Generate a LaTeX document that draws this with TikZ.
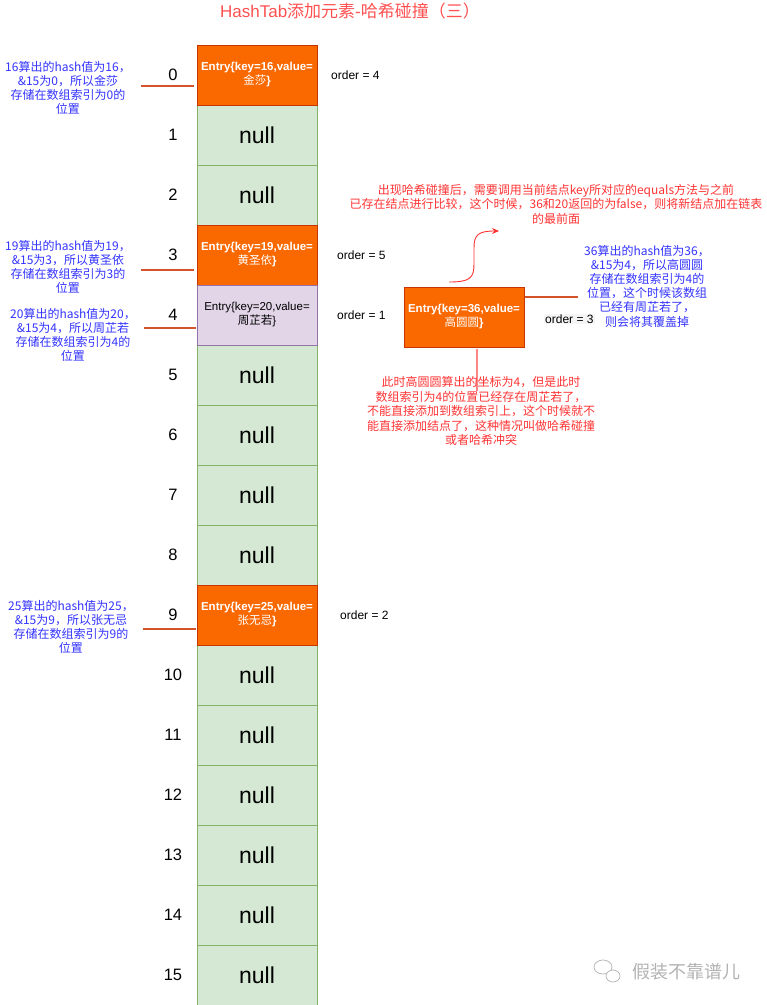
\documentclass[tikz,border=0pt]{standalone}
\usepackage{fontspec}
\setmainfont{Liberation Sans}
\newfontfamily\cjk{Noto Sans CJK SC}
\usetikzlibrary{arrows.meta}
\definecolor{orfill}{HTML}{FA6800}
\definecolor{orline}{HTML}{C73500}
\definecolor{gnfill}{HTML}{D5E8D4}
\definecolor{gnline}{HTML}{82B366}
\definecolor{pufill}{HTML}{E1D5E7}
\definecolor{puline}{HTML}{9673A6}
\definecolor{linkred}{HTML}{D4532B}
\definecolor{notered}{HTML}{FF3333}
\definecolor{noteblue}{HTML}{3333FF}
\definecolor{titlered}{HTML}{FF5050}
\begin{document}
\begin{tikzpicture}[x=1pt,y=-1pt,
  cellbox/.style={minimum width=120pt,minimum height=60pt,inner sep=0pt,line width=0.8pt,align=center},
  nullcell/.style={cellbox,draw=gnline,fill=gnfill,font=\fontsize{23}{23}\selectfont},
  orcell/.style={cellbox,draw=orline,fill=orfill,text=white,font=\bfseries\fontsize{11.5}{14}\selectfont},
  pucell/.style={cellbox,draw=puline,fill=pufill,text=black,font=\fontsize{11.5}{14}\selectfont},
  idx/.style={font=\fontsize{16.5}{17}\selectfont,inner sep=0pt},
  ordertxt/.style={font=\fontsize{12}{12}\selectfont,inner sep=0pt,anchor=west},
  bluenote/.style={font=\cjk\fontsize{12}{14.2}\selectfont,text=noteblue,align=center,inner sep=0pt},
  rednote/.style={font=\cjk\fontsize{12}{14.5}\selectfont,text=notered,align=center,inner sep=0pt},
  linkline/.style={draw=linkred,line width=1.6pt},
]
\useasboundingbox (0,0) rectangle (767,1005);

% title
\node[font=\fontsize{17}{17}\selectfont,text=titlered,inner sep=0pt] (title) at (350,11) {HashTab{\cjk 添加元素}-{\cjk 哈希碰撞（三）}};

% array cells
\foreach \i in {1,2,5,6,7,8,10,11,12,13,14,15}
  \node[nullcell] (c\i) at (257,75+60*\i) {null};
\node[orcell] (c0) at (257,75) {Entry\{key=16,value=\\{\cjk\mdseries 金莎}\}};
\node[orcell] (c3) at (257,255) {Entry\{key=19,value=\\{\cjk\mdseries 黄圣依}\}};
\node[pucell] (c4) at (257,315) {Entry\{key=20,value=\\{\cjk 周芷若}\}};
\node[orcell] (c9) at (257,615) {Entry\{key=25,value=\\{\cjk\mdseries 张无忌}\}};

% indices
\foreach \i in {0,...,15}
  \node[idx] (i\i) at (173,75+60*\i) {\i};

% order labels
\node[ordertxt] (o4) at (331,75) {order = 4};
\node[ordertxt] (o5) at (337,255) {order = 5};
\node[ordertxt] (o1) at (337,315) {order = 1};
\node[ordertxt] (o2) at (340,615) {order = 2};

% left notes
\node[bluenote] (n0) at (68,88) {16算出的hash值为16，\\\&15为0，所以金莎\\存储在数组索引为0的\\位置};
\node[bluenote] (n3) at (68,267) {19算出的hash值为19，\\\&15为3，所以黄圣依\\存储在数组索引为3的\\位置};
\node[bluenote] (n4) at (73,335) {20算出的hash值为20，\\\&15为4，所以周芷若\\存储在数组索引为4的\\位置};
\node[bluenote] (n9) at (71,627) {25算出的hash值为25，\\\&15为9，所以张无忌\\存储在数组索引为9的\\位置};

% link lines
\coordinate (a0) at (141,86);  \coordinate (b0) at (194,86);
\coordinate (a3) at (141,270); \coordinate (b3) at (194,270);
\coordinate (a4) at (144,328); \coordinate (b4) at (196,328);
\coordinate (a9) at (143,629); \coordinate (b9) at (196,629);
\draw[linkline] (a0) -- (b0);
\draw[linkline] (a3) -- (b3);
\draw[linkline] (a4) -- (b4);
\draw[linkline] (a9) -- (b9);

% new entry 36
\node[orcell] (e36) at (464,317) {Entry\{key=36,value=\\{\cjk\mdseries 高圆圆}\}};
\coordinate (e36r) at (525,297);
\coordinate (e36t) at (578,297);
\draw[linkline] (e36r) -- (e36t);
\node[ordertxt,fill=black!4,inner sep=1pt] (o3) at (544,319) {order = 3};

\node[bluenote] (n36) at (647,286) {36算出的hash值为36，\\\&15为4，所以高圆圆\\存储在数组索引为4的\\位置，这个时候该数组\\已经有周芷若了，\\则会将其覆盖掉};

% top red note and curved arrow
\node[rednote] (ntop) at (556,204) {出现哈希碰撞后，需要调用当前结点key所对应的equals方法与之前\\已存在结点进行比较，这个时候，36和20返回的为false，则将新结点加在链表\\的最前面};
\coordinate (cs) at (449,282);
\coordinate (ce) at (499,231);
\draw[notered,line width=0.9pt,-{Stealth[length=7pt,width=6pt]}] (cs) .. controls (470,282) and (474,278) .. (474,264) -- (474,248) .. controls (474,235) and (478,231) .. (ce);

% bottom red note
\node[rednote] (nbot) at (481,411) {此时高圆圆算出的坐标为4，但是此时\\数组索引为4的位置已经存在周芷若了，\\不能直接添加到数组索引上，这个时候就不\\能直接添加结点了，这种情况叫做哈希碰撞\\或者哈希冲突};
\coordinate (vs) at (477,349);
\coordinate (ve) at (477,391);
\draw[notered,line width=1.3pt,opacity=0.6] (vs) -- (ve);

% watermark
\draw[gray!55,line width=0.8pt] (603,967) ellipse [x radius=9pt,y radius=7pt];
\draw[gray!55,line width=0.8pt,fill=white] (613,976) ellipse [x radius=7pt,y radius=6pt];
\node[font=\cjk\fontsize{18}{18}\selectfont,text=gray!60,inner sep=0pt] (wm) at (686,972) {假装不靠谱儿};
\end{tikzpicture}
\end{document}
